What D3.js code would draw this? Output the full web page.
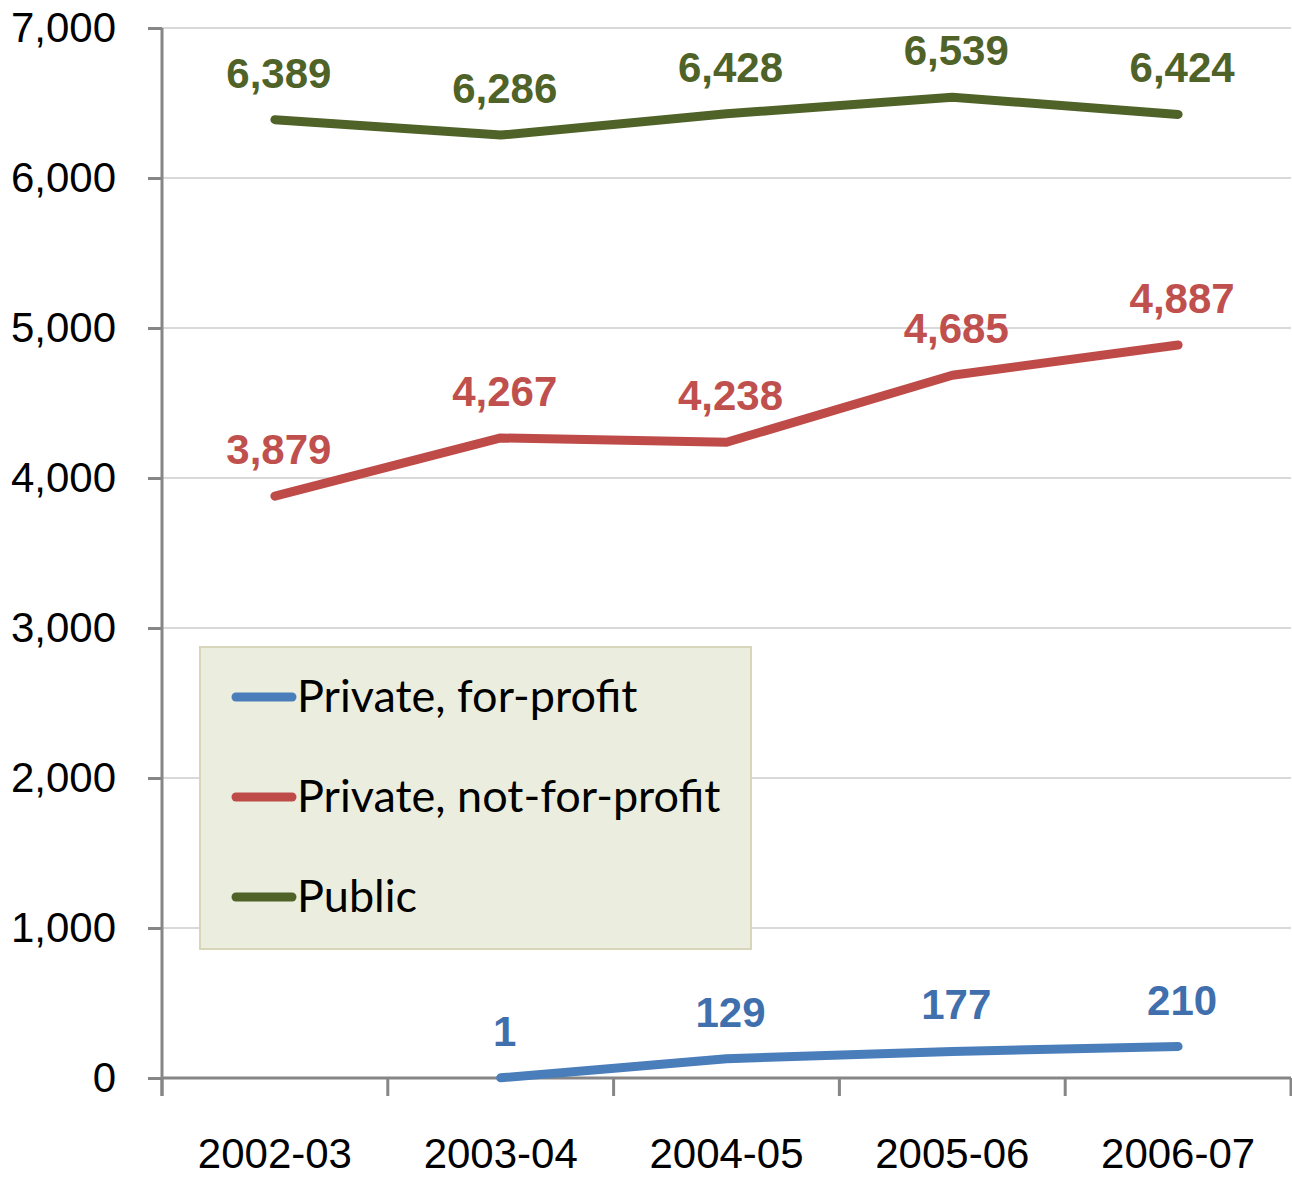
<!DOCTYPE html>
<html>
<head>
<meta charset="utf-8">
<script src="https://cdn.jsdelivr.net/npm/d3@7"></script>
<style>
  body { margin: 0; background: #fff; }
</style>
</head>
<body>
<div id="chart"></div>
<script>
// data
var years = ["2002-03", "2003-04", "2004-05", "2005-06", "2006-07"];
var forProfit = [null, 1, 129, 177, 210];
var notForProfit = [3879, 4267, 4238, 4685, 4887];
var publicInst = [6389, 6286, 6428, 6539, 6424];
var seriesNames = ["Private, for-profit", "Private, not-for-profit", "Public"];
var yTicks = [0, 1000, 2000, 3000, 4000, 5000, 6000, 7000];

var svgWidth = 1292;
var svgHeight = 1179;

var chartMargin = {
    top: 28,
    right: 1,
    bottom: 100,
    left: 162
};

var chartWidth = svgWidth - chartMargin.left - chartMargin.right;
var chartHeight = 1078 - chartMargin.top;

var series = [
    { name: seriesNames[0], values: forProfit, line: "#4a7ebb", label: "#3f6fad" },
    { name: seriesNames[1], values: notForProfit, line: "#be4b48", label: "#c0504d" },
    { name: seriesNames[2], values: publicInst, line: "#4f6228", label: "#4f6228" }
];

var svg = d3.select("#chart")
            .append("svg")
            .attr("width", svgWidth)
            .attr("height", svgHeight);

var chartGroup = svg.append("g")
                    .attr("transform", `translate(${chartMargin.left}, ${chartMargin.top})`);

var xScale = d3.scaleBand()
                .domain(years)
                .range([0, chartWidth]);

var yScale = d3.scaleLinear()
                .domain([0, 7000])
                .range([chartHeight, 0]);

// gridlines
chartGroup.selectAll(".grid")
    .data(yTicks.filter(function(t) { return t > 0; }))
    .enter()
    .append("line")
    .attr("x1", 0)
    .attr("x2", chartWidth)
    .attr("y1", function(d) { return yScale(d); })
    .attr("y2", function(d) { return yScale(d); })
    .attr("stroke", "#d9d9d9")
    .attr("stroke-width", 2);

// y axis
var yAxis = d3.axisLeft(yScale)
                .tickValues(yTicks)
                .tickSize(14)
                .tickPadding(32)
                .tickFormat(d3.format(","));

var yG = chartGroup.append("g").call(yAxis);
yG.select(".domain").remove();
yG.selectAll(".tick line").attr("stroke", "#868686").attr("stroke-width", 3);
yG.selectAll(".tick text")
    .attr("fill", "#000")
    .style("font-family", "'Liberation Sans', Arial, sans-serif")
    .style("font-size", "42px");

chartGroup.append("line")
    .attr("x1", 0).attr("x2", 0)
    .attr("y1", 0).attr("y2", chartHeight + 18)
    .attr("stroke", "#868686")
    .attr("stroke-width", 3);

// x axis
var xAxis = d3.axisBottom(xScale).tickSize(0).tickPadding(60);
var xG = chartGroup.append("g")
                .attr("transform", `translate(0, ${chartHeight})`)
                .call(xAxis);
xG.select(".domain").remove();
xG.selectAll(".tick text")
    .attr("fill", "#000")
    .style("font-family", "'Liberation Sans', Arial, sans-serif")
    .style("font-size", "42px");

xG.append("line")
    .attr("x1", 0).attr("x2", chartWidth)
    .attr("stroke", "#868686")
    .attr("stroke-width", 3);

var edges = years.map(function(y) { return xScale(y); }).concat([chartWidth]);
xG.selectAll(".xedge")
    .data(edges)
    .enter()
    .append("line")
    .attr("x1", function(d) { return d; })
    .attr("x2", function(d) { return d; })
    .attr("y1", 0)
    .attr("y2", 18)
    .attr("stroke", "#868686")
    .attr("stroke-width", 3);

var cx = function(i) { return xScale(years[i]) + xScale.bandwidth() / 2; };

var line = d3.line()
    .defined(function(d) { return d != null; })
    .x(function(d, i) { return cx(i); })
    .y(function(d) { return yScale(d); });

series.forEach(function(s) {
    chartGroup.append("path")
        .datum(s.values)
        .attr("fill", "none")
        .attr("stroke", s.line)
        .attr("stroke-width", 9)
        .attr("stroke-linecap", "round")
        .attr("stroke-linejoin", "round")
        .attr("d", line);

    chartGroup.selectAll(null)
        .data(s.values)
        .enter()
        .filter(function(d) { return d != null; })
        .append("text")
        .attr("x", function(d) { return cx(s.values.indexOf(d)) + 4; })
        .attr("y", function(d) { return yScale(d) - 32; })
        .attr("text-anchor", "middle")
        .attr("fill", s.label)
        .style("font-family", "'Liberation Sans', Arial, sans-serif")
        .style("font-weight", "bold")
        .style("font-size", "42px")
        .text(function(d) { return d3.format(",")(d); });
});

// legend
var legend = svg.append("g").attr("transform", "translate(200, 647)");
legend.append("rect")
    .attr("width", 551)
    .attr("height", 302)
    .attr("fill", "#ebeedf")
    .attr("stroke", "#d8d6b8")
    .attr("stroke-width", 2);

var items = legend.selectAll(".item")
    .data(series)
    .enter()
    .append("g")
    .attr("transform", function(d, i) { return `translate(0, ${50 + i * 100})`; });

items.append("line")
    .attr("x1", 36).attr("x2", 92)
    .attr("stroke", function(d) { return d.line; })
    .attr("stroke-width", 9)
    .attr("stroke-linecap", "round");

items.append("text")
    .attr("x", 97)
    .attr("y", 15)
    .attr("fill", "#000")
    .style("font-family", "Lato, 'Open Sans', sans-serif")
    .style("font-size", "45px")
    .text(function(d) { return d.name; });
</script>
</body>
</html>
